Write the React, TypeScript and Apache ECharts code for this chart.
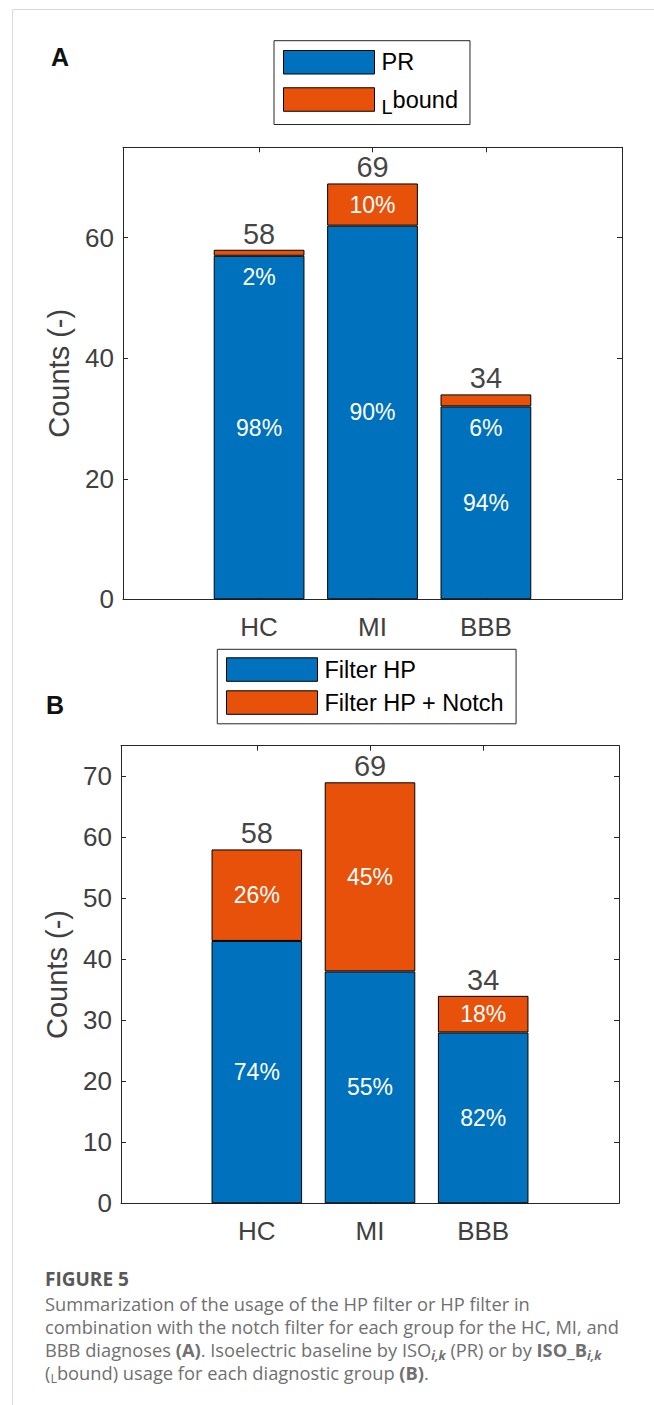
import React, { useEffect, useRef } from 'react';
import * as echarts from 'echarts';

// ---------- data ----------
const categories = ['HC', 'MI', 'BBB'];
const categoryPositions = [1, 2, 3];
const prCounts = [57, 62, 32];
const lboundCounts = [1, 7, 2];
const filterHpCounts = [43, 38, 28];
const filterHpNotchCounts = [15, 31, 6];
const yTicksA = [0, 20, 40, 60];
const yTicksB = [0, 10, 20, 30, 40, 50, 60, 70];
const yMax = 75;
const xMin = -0.2;
const xMax = 4.2;
const legendNamesA = ['PR', 'Lbound'];
const legendNamesB = ['Filter HP', 'Filter HP + Notch'];

// ---------- style ----------
const FONT = '"Liberation Sans", Arial, Helvetica, sans-serif';
const CAP_FONT = '"Open Sans", "Noto Sans", sans-serif';
const BLUE = '#0072BD';
const ORANGE = '#E8510A';
const AXIS = '#262626';
const TICK_TXT = '#404040';

const gridA = { left: 123, top: 147.3, width: 499, height: 452 };
const gridB = { left: 121, top: 745.7, width: 498, height: 457.6 };

const pct = (v: number, t: number) => `${Math.round((100 * v) / t)}%`;

function panel(idx: number, grid: any, lower: number[], upper: number[], names: string[], ticks: number[], smallBelow: boolean) {
  const totals = lower.map((v, i) => v + upper[i]);
  const xi = idx * 2;
  const yi = idx * 2;
  const bw = (0.8 * grid.width) / (xMax - xMin);
  const unitPx = grid.height / yMax;
  const xAxes = [
    {
      type: 'value', gridIndex: idx, min: xMin, max: xMax, position: 'bottom',
      axisLine: { show: true, onZero: false, lineStyle: { color: AXIS, width: 1 } },
      axisTick: { show: true, inside: true, length: 5, customValues: categoryPositions, lineStyle: { color: AXIS } },
      axisLabel: {
        show: true, customValues: categoryPositions, margin: 15, fontSize: 26, color: TICK_TXT, fontFamily: FONT,
        formatter: (v: number) => categories[categoryPositions.indexOf(v)] ?? '',
      },
      splitLine: { show: false },
    },
    {
      type: 'value', gridIndex: idx, min: xMin, max: xMax, position: 'top',
      axisLine: { show: true, onZero: false, lineStyle: { color: AXIS, width: 1 } },
      axisTick: { show: true, inside: true, length: 5, customValues: categoryPositions, lineStyle: { color: AXIS } },
      axisLabel: { show: false },
      splitLine: { show: false },
    },
  ];
  const yAxes = [
    {
      type: 'value', gridIndex: idx, min: 0, max: yMax, position: 'left',
      name: 'Counts (-)', nameLocation: 'middle', nameGap: 50,
      nameTextStyle: { fontSize: 29, color: TICK_TXT, fontFamily: FONT },
      axisLine: { show: true, onZero: false, lineStyle: { color: AXIS, width: 1 } },
      axisTick: { show: true, inside: true, length: 5, customValues: ticks, lineStyle: { color: AXIS } },
      axisLabel: { show: true, customValues: ticks, margin: 9, fontSize: 26, color: TICK_TXT, fontFamily: FONT },
      splitLine: { show: false },
    },
    {
      type: 'value', gridIndex: idx, min: 0, max: yMax, position: 'right',
      axisLine: { show: true, onZero: false, lineStyle: { color: AXIS, width: 1 } },
      axisTick: { show: true, inside: true, length: 5, customValues: ticks, lineStyle: { color: AXIS } },
      axisLabel: { show: false },
      splitLine: { show: false },
    },
  ];
  // data stored as [count, position] so the stacked dimension is the count (y)
  const series = [
    {
      type: 'bar', name: names[0], xAxisIndex: xi, yAxisIndex: yi, stack: 'stack' + idx, barWidth: bw,
      encode: { x: 1, y: 0 },
      itemStyle: { color: BLUE, borderColor: '#000', borderWidth: 1 },
      label: {
        show: true, position: 'inside', color: '#fff', fontSize: 23, fontFamily: FONT,
        formatter: (p: any) => pct(lower[p.dataIndex], totals[p.dataIndex]),
      },
      data: lower.map((v, i) => [v, categoryPositions[i]]),
    },
    {
      type: 'bar', name: names[1], xAxisIndex: xi, yAxisIndex: yi, stack: 'stack' + idx, barWidth: bw,
      encode: { x: 1, y: 0 },
      itemStyle: { color: ORANGE, borderColor: '#000', borderWidth: 1 },
      label: {
        show: true, position: 'inside', color: '#fff', fontSize: 23, fontFamily: FONT,
        formatter: (p: any) => pct(upper[p.dataIndex], totals[p.dataIndex]),
      },
      data: upper.map((v, i) => {
        const small = smallBelow && v * unitPx < 26;
        return {
          value: [v, categoryPositions[i]],
          label: small ? { position: 'bottom', distance: 10 } : { position: 'inside' },
        };
      }),
    },
    {
      type: 'scatter', name: 'total' + idx, xAxisIndex: xi, yAxisIndex: yi, symbolSize: 1, silent: true,
      itemStyle: { color: 'rgba(0,0,0,0)' }, z: 5,
      label: {
        show: true, position: 'top', distance: 1, color: '#111', fontSize: 29, fontFamily: FONT,
        formatter: (p: any) => String(p.value[1]),
      },
      data: totals.map((t, i) => [categoryPositions[i], t]),
    },
  ];
  return { xAxes, yAxes, series };
}

function buildOption() {
  const a = panel(0, gridA, prCounts, lboundCounts, legendNamesA, yTicksA, true);
  const b = panel(1, gridB, filterHpCounts, filterHpNotchCounts, legendNamesB, yTicksB, false);

  const legendCommon = {
    orient: 'vertical', icon: 'rect', itemWidth: 91, itemHeight: 23.5,
    borderColor: AXIS, borderWidth: 1, backgroundColor: '#fff', selectedMode: false,
    itemStyle: { borderColor: '#000', borderWidth: 1 },
  };

  const capRich = {
    b: { fontSize: 18.3, fontWeight: 'bold', color: '#666', fontFamily: CAP_FONT },
    sbi: { fontSize: 12.5, fontWeight: 'bold', fontStyle: 'italic', color: '#666', fontFamily: CAP_FONT, lineHeight: 12.5, padding: [13, 0, 0, 0] },
    sl: { fontSize: 12.5, color: '#707070', fontFamily: CAP_FONT, lineHeight: 12.5, padding: [13, 0, 0, 0] },
  };
  const capStyle = (text: string) => ({
    text, fontSize: 18.3, fill: '#707070', fontFamily: CAP_FONT, verticalAlign: 'middle', align: 'left', rich: capRich,
  });
  const capLines = [
    'Summarization of the usage of the HP filter or HP filter in',
    'combination with the notch filter for each group for the HC, MI, and',
    'BBB diagnoses {b|(A)}. Isoelectric baseline by ISO{sbi|i,k} (PR) or by {b|ISO_B}{sbi|i,k}',
    '({sl|L}bound) usage for each diagnostic group {b|(B)}.',
  ];
  const capY = [1303, 1326, 1349, 1372];

  return {
    animation: false,
    backgroundColor: '#fff',
    grid: [
      { ...gridA, containLabel: false },
      { ...gridB, containLabel: false },
    ],
    xAxis: [...a.xAxes, ...b.xAxes],
    yAxis: [...a.yAxes, ...b.yAxes],
    legend: [
      {
        ...legendCommon, data: legendNamesA, left: 274, top: 40.7, padding: [9.3, 12, 8, 9], itemGap: 8,
        textStyle: {
          fontSize: 23.5, color: '#000', fontFamily: FONT, padding: [0, 0, 0, 2],
          rich: {
            n: { fontSize: 23.5, lineHeight: 23.5, verticalAlign: 'top', color: '#000', fontFamily: FONT },
            sub: { fontSize: 20, lineHeight: 20, padding: [14, 0, 0, 0], color: '#000', fontFamily: FONT },
          },
        },
        formatter: (name: string) => (name === 'Lbound' ? '{sub|L}{n|bound}' : name),
      },
      {
        ...legendCommon, data: legendNamesB, left: 217.3, top: 649.3, padding: [8, 12, 9, 8.7], itemGap: 8.5,
        textStyle: { fontSize: 23.5, color: '#000', fontFamily: FONT, padding: [0, 0, 0, 2] },
      },
    ],
    series: [...a.series, ...b.series],
    graphic: [
      { type: 'line', shape: { x1: 12.5, y1: 9.5, x2: 654, y2: 9.5 }, style: { stroke: '#d9d9d9', lineWidth: 1 }, silent: true },
      { type: 'line', shape: { x1: 12.5, y1: 9.5, x2: 12.5, y2: 1405 }, style: { stroke: '#d9d9d9', lineWidth: 1 }, silent: true },
      { type: 'text', x: 51, y: 57, style: { text: 'A', fontSize: 25, fontWeight: 'bold', fill: '#111', fontFamily: FONT, verticalAlign: 'middle' } },
      { type: 'text', x: 46, y: 705, style: { text: 'B', fontSize: 25, fontWeight: 'bold', fill: '#111', fontFamily: FONT, verticalAlign: 'middle' } },
      { type: 'text', x: 45, y: 1279, style: { text: 'FIGURE 5', fontSize: 19, fontWeight: 'bold', fill: '#585858', fontFamily: CAP_FONT, verticalAlign: 'middle' } },
      ...capLines.map((t, i) => ({ type: 'text', x: 45, y: capY[i], style: capStyle(t) })),
    ],
  };
}

export default function App() {
  const ref = useRef<HTMLDivElement>(null);
  useEffect(() => {
    if (!ref.current) return;
    const chart = echarts.init(ref.current, undefined, { renderer: 'svg' });
    chart.setOption(buildOption() as any);
    return () => chart.dispose();
  }, []);
  return (
    <div
      ref={ref}
      style={{ position: 'absolute', left: 0, top: 0, width: 654, height: 1405, background: '#fff' }}
    />
  );
}
